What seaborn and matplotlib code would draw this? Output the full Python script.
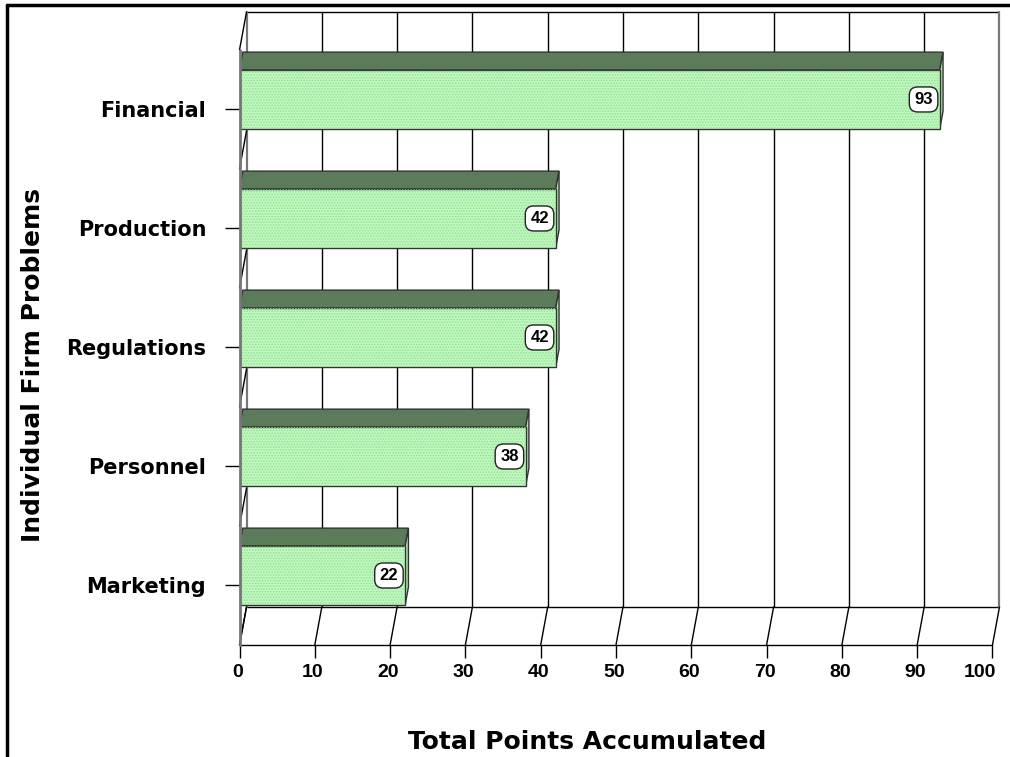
import numpy as np
import matplotlib
matplotlib.use("Agg")
import matplotlib.pyplot as plt
from matplotlib.patches import Polygon, Rectangle
from matplotlib.lines import Line2D
from matplotlib.transforms import ScaledTranslation
import seaborn as sns

categories = ["Financial", "Production", "Regulations", "Personnel", "Marketing"]
values = [93, 42, 42, 38, 22]
xticks = [0, 10, 20, 30, 40, 50, 60, 70, 80, 90, 100]
xlabel = "Total Points Accumulated"
ylabel = "Individual Firm Problems"

sns.set_style("white")
plt.rcParams["font.family"] = ["DejaVu Sans"]
plt.rcParams["font.weight"] = "bold"
plt.rcParams["text.color"] = "black"
plt.rcParams["xtick.color"] = "black"
plt.rcParams["ytick.color"] = "black"
plt.rcParams["hatch.linewidth"] = 0.8

W, H = 1010, 757
fig = plt.figure(figsize=(W / 100, H / 100), dpi=100)
ax_left, ax_right = 239.5, 1000.0
ax_top, ax_bot = 12, 645
ax = fig.add_axes([ax_left / W, 1 - ax_bot / H, (ax_right - ax_left) / W, (ax_bot - ax_top) / H])

FRONT = "#c2f7c2"
TOP = "#5b7b5b"
SIDE = "#a8e8a8"
EDGE = "#333333"

BAR_W = 0.496
sns.barplot(x=values, y=categories, orient="h", width=BAR_W, color=FRONT,
            saturation=1, edgecolor=EDGE, linewidth=1.0, ax=ax, zorder=5)

YMAX, YMIN = 4.584, -0.735
XMAX = 101
ax.set_xlim(0, XMAX)
ax.set_ylim(YMAX, YMIN)

DX, DY = 0.93, -0.319      # full depth offset (data units)
BD = 0.47                  # bar depth fraction

# back wall & floor
ax.plot([DX, 100 + DX], [YMIN, YMIN], color="black", lw=1, zorder=1, clip_on=False)
ax.plot([DX, 100 + DX], [YMAX + DY, YMAX + DY], color="black", lw=1, zorder=1, clip_on=False)
for t in xticks:
    c = "#777777" if t in (0, 100) else "black"
    lw = 1.6 if t in (0, 100) else 1.0
    ax.plot([t + DX, t + DX], [YMIN, YMAX + DY], color=c, lw=lw, zorder=1, clip_on=False)
    ax.plot([t, t + DX], [YMAX, YMAX + DY], color="black", lw=1, zorder=1, clip_on=False)

# left depth edges at category boundaries
for k in range(6):
    yb = -0.416 + k
    ax.plot([0, DX], [yb, yb + DY], color="black", lw=1, zorder=2, clip_on=False)
# left front edge
ax.plot([0, 0], [-0.416, YMAX], color="#777777", lw=2, zorder=6, clip_on=False)

# dotted texture + 3D faces of bars
for i, v in enumerate(values):
    y0, y1 = i - BAR_W / 2, i + BAR_W / 2
    ax.add_patch(Rectangle((0, y0), v, BAR_W, facecolor="none", edgecolor="#8fe38f",
                           lw=0, hatch="......", zorder=5.5))
    ox, oy = BD * DX, BD * DY
    top = Polygon([(0, y0), (v, y0), (v + ox, y0 + oy), (ox, y0 + oy)], closed=True,
                  facecolor=TOP, edgecolor=EDGE, lw=1.0, zorder=4)
    side = Polygon([(v, y0), (v, y1), (v + ox, y1 + oy), (v + ox, y0 + oy)], closed=True,
                   facecolor=SIDE, edgecolor=EDGE, lw=1.0, zorder=4)
    ax.add_patch(top)
    ax.add_patch(side)
    ax.annotate(str(v), xy=(v, i), xytext=(-5, 0), textcoords="offset points",
                ha="right", va="center", fontsize=12, fontweight="heavy", color="black",
                family="Liberation Sans",
                bbox=dict(boxstyle="round,pad=0.3,rounding_size=0.5", fc="white", ec="#222222", lw=1),
                zorder=8)

for s in ax.spines.values():
    s.set_visible(False)
ax.spines["bottom"].set_visible(True)
ax.spines["bottom"].set_bounds(0, 100)
ax.spines["bottom"].set_color("black")
ax.spines["bottom"].set_linewidth(1)
ax.spines["bottom"].set_zorder(3)

ax.set_xticks(xticks)
ax.set_xticklabels([str(t) for t in xticks])
ax.set_yticks(np.arange(len(categories)) + 0.084)
ax.set_yticklabels(categories)
ax.tick_params(axis="x", direction="out", length=9, width=1, color="black",
               labelsize=14, pad=5, bottom=True, labelcolor="black")
ax.tick_params(axis="y", direction="out", length=11, width=1, color="black",
               labelsize=15, pad=13, left=True, labelcolor="black")
for lab in ax.get_xticklabels():
    lab.set_fontweight("bold")
    lab.set_family("Liberation Sans")
    lab.set_transform(lab.get_transform() + ScaledTranslation(-0.02, 0, fig.dpi_scale_trans))
last = ax.get_xticklabels()[-1]
last.set_transform(last.get_transform() + ScaledTranslation(-0.11, 0, fig.dpi_scale_trans))
for lab in ax.get_yticklabels():
    lab.set_fontweight("bold")
ax.set_xlabel("")
ax.set_ylabel("")
ax.grid(False)

fig.text(587 / W, 1 - 742 / H, xlabel, ha="center", va="center", fontsize=18, fontweight="bold", color="black")
fig.text(33 / W, 1 - 365 / H, ylabel, ha="center", va="center", rotation=90, fontsize=18, fontweight="bold", color="black")

# figure border (top and left)
fig.add_artist(Line2D([7 / W, 1.0], [1 - 5 / H, 1 - 5 / H], transform=fig.transFigure, color="black", lw=2.5))
fig.add_artist(Line2D([7 / W, 7 / W], [0, 1 - 5 / H], transform=fig.transFigure, color="black", lw=2.5))

fig.savefig("out.png", dpi=100)
